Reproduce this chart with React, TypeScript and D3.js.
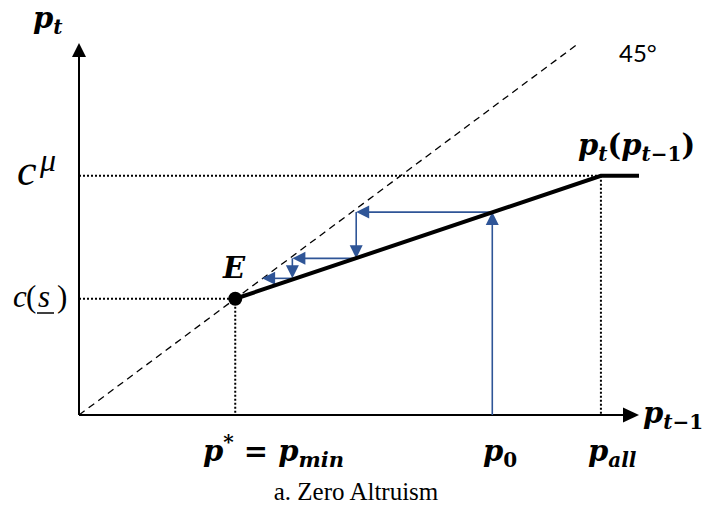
import React from "react";
import * as d3 from "d3";

// ---- data (model units) ----
const axisMax = { x: 100, y: 89.3 };
const diagonalEnd = 89.1; // 45° line drawn from 0 to here (y = x)
const equilibrium = { x: 27.9, y: 27.9 }; // E = (p*, c(s))
const cMu = 57.4; // upper price level c^μ
const pAll = 93.2; // kink of p_t(p_{t-1})
const p0 = 73.8;
// p_t(p_{t-1}) map: rising segment then flat
const mapX = [27.9, 93.2, 100];
const mapY = [27.9, 57.4, 57.4];
// cobweb iterates
const cobwebX = [p0, 49.5, 38.1, 32.7];
const cobwebY = [0, 48.7, 37.6, 32.8];

const W = 712;
const H = 511;
const BLUE = "#2F5597";
const MATH = "'DejaVu Serif', serif";
const SERIF = "'Liberation Serif', 'Times New Roman', serif";

const x = d3.scaleLinear().domain([0, 100]).range([79, 639]);
const y = d3.scaleLinear().domain([0, 100]).range([415, 415 - 416.6]);

function arrowHead(ax: number, ay: number, bx: number, by: number, len: number, wid: number) {
  const dx = bx - ax, dy = by - ay;
  const L = Math.hypot(dx, dy) || 1;
  const ux = dx / L, uy = dy / L;
  const px = -uy, py = ux;
  const cx = bx - ux * len, cy = by - uy * len;
  return `M${bx},${by}L${cx + px * wid / 2},${cy + py * wid / 2}L${cx - px * wid / 2},${cy - py * wid / 2}Z`;
}

type Seg = { t: string; sub?: boolean; sup?: boolean; up?: boolean; size?: number };

function MathLabel({ x0, y0, segs, size = 29, subSize = 20 }: { x0: number; y0: number; segs: Seg[]; size?: number; subSize?: number }) {
  let shift = 0;
  const spans = segs.map((s, i) => {
    const target = s.sub ? 6 : s.sup ? -12 : 0;
    const dy = target - shift;
    shift = target;
    return (
      <tspan
        key={i}
        dy={dy}
        fontSize={s.size ?? (s.sub || s.sup ? subSize : size)}
        fontStyle={s.up ? "normal" : "italic"}
      >
        {s.t}
      </tspan>
    );
  });
  return (
    <text x={x0} y={y0} fontFamily={MATH} fontWeight="bold" fill="#000">
      {spans}
    </text>
  );
}

export default function App() {
  const origin = { x: x(0), y: y(0) };
  const yTip = y(axisMax.y);
  const xTip = x(axisMax.x);

  const mapLine = d3.line<number>().x((_, i) => x(mapX[i])).y((_, i) => y(mapY[i]))(mapX) || "";

  // cobweb segments
  const pts: [number, number][] = [[cobwebX[0], cobwebY[0]]];
  for (let i = 0; i < cobwebX.length - 1; i++) {
    pts.push([cobwebX[i], cobwebY[i + 1]]);
    pts.push([cobwebX[i + 1], cobwebY[i + 1]]);
  }
  const segs: [number, number, number, number][] = [];
  for (let i = 0; i < pts.length - 1; i++) {
    segs.push([x(pts[i][0]), y(pts[i][1]), x(pts[i + 1][0]), y(pts[i + 1][1])]);
  }

  return (
    <svg width={W} height={H} style={{ position: "absolute", left: 0, top: 0, background: "#fff" }}>
      {/* dotted guides */}
      <g stroke="#000" strokeWidth={2} strokeDasharray="2 2" fill="none">
        <line x1={origin.x} y1={y(cMu)} x2={x(pAll)} y2={y(cMu)} />
        <line x1={origin.x} y1={y(equilibrium.y)} x2={x(equilibrium.x)} y2={y(equilibrium.y)} />
        <line x1={x(pAll)} y1={y(cMu)} x2={x(pAll)} y2={origin.y} />
        <line x1={x(equilibrium.x)} y1={y(equilibrium.y)} x2={x(equilibrium.x)} y2={origin.y} />
      </g>
      {/* 45 degree line */}
      <line
        x1={x(0)}
        y1={y(0)}
        x2={x(diagonalEnd)}
        y2={y(diagonalEnd)}
        stroke="#000"
        strokeWidth={1.3}
        strokeDasharray="7 5"
      />
      {/* axes */}
      <g stroke="#000" strokeWidth={2}>
        <line x1={origin.x} y1={origin.y} x2={origin.x} y2={yTip + 12} />
        <line x1={origin.x} y1={origin.y} x2={xTip - 14} y2={origin.y} />
      </g>
      <path d={arrowHead(origin.x, origin.y, origin.x, yTip, 14, 14)} fill="#000" />
      <path d={arrowHead(origin.x, origin.y, xTip, origin.y, 16, 15)} fill="#000" />

      {/* cobweb */}
      <g>
        {segs.map((s, i) => {
          const len = 13;
          const L = Math.hypot(s[2] - s[0], s[3] - s[1]);
          const ux = (s[2] - s[0]) / L, uy = (s[3] - s[1]) / L;
          return (
            <g key={i}>
              <line x1={s[0]} y1={s[1]} x2={s[2] - ux * (len - 2)} y2={s[3] - uy * (len - 2)} stroke={BLUE} strokeWidth={1.6} />
              <path d={arrowHead(s[0], s[1], s[2], s[3], len, 13)} fill={BLUE} />
            </g>
          );
        })}
      </g>

      {/* p_t(p_{t-1}) map */}
      <path d={mapLine} fill="none" stroke="#000" strokeWidth={4} />
      <circle cx={x(equilibrium.x)} cy={y(equilibrium.y)} r={7} fill="#000" />

      {/* labels */}
      <MathLabel x0={33} y0={28} segs={[{ t: "p" }, { t: "t", sub: true }]} />
      <MathLabel
        x0={578}
        y0={155}
        segs={[
          { t: "p" },
          { t: "t", sub: true },
          { t: "(", up: true },
          { t: "p" },
          { t: "t", sub: true },
          { t: "−1", sub: true, up: true },
          { t: ")", up: true },
        ]}
      />
      <MathLabel x0={643} y0={423} segs={[{ t: "p" }, { t: "t", sub: true }, { t: "−1", sub: true, up: true }]} />
      <MathLabel x0={223} y0={278} segs={[{ t: "E" }]} />
      <MathLabel
        x0={203}
        y0={461}
        segs={[
          { t: "p" },
          { t: "*", sup: true, up: true, size: 20 },
          { t: " = ", up: true },
          { t: "p" },
          { t: "min", sub: true, size: 21 },
        ]}
      />
      <MathLabel x0={483} y0={461} segs={[{ t: "p" }, { t: "0", sub: true, up: true }]} />
      <MathLabel x0={588} y0={461} segs={[{ t: "p" }, { t: "all", sub: true }]} />

      <text x={619} y={62} fontFamily="Lato, 'Open Sans', sans-serif" fontSize={24} fill="#000">
        45°
      </text>

      {/* c^mu */}
      <text y={185} fontFamily={SERIF} fill="#000" fontStyle="italic">
        <tspan x={17} fontSize={44}>c</tspan>
        <tspan x={40} fontSize={32} dy={-14}>μ</tspan>
      </text>
      {/* c(s) */}
      <text y={307} fontFamily={SERIF} fill="#000" fontSize={31}>
        <tspan x={13} fontStyle="italic">c</tspan>
        <tspan x={26}>(</tspan>
        <tspan x={38} fontStyle="italic">s</tspan>
        <tspan x={57}>)</tspan>
      </text>
      <line x1={37} y1={313} x2={54} y2={313} stroke="#000" strokeWidth={1.5} />

      <text x={356} y={500} textAnchor="middle" fontFamily={SERIF} fontSize={25} fill="#000">
        a. Zero Altruism
      </text>
    </svg>
  );
}
